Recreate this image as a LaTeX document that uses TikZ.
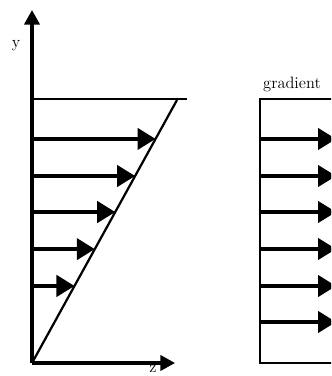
\documentclass[tikz,border=0pt]{standalone}
\usepackage{tikz}
\usetikzlibrary{arrows.meta,calc}

\begin{document}
\begin{tikzpicture}[
    x=0.03cm, y=-0.03cm,
    axis/.style={line width=2.6pt, -{Triangle[length=0.44cm, width=0.46cm]}},
    flow/.style={line width=2.8pt, -{Triangle[length=0.54cm, width=0.64cm]}},
    wall/.style={line width=1.9pt},
    lbl/.style={font=\fontsize{14}{16}\selectfont}
]
\clip (0,0) rectangle (331,376);

% left panel: linear profile
\coordinate (O) at (32,363);
\coordinate (ytip) at (32,10);
\coordinate (ztip) at (175,363);
\coordinate (P) at (177,100);
\coordinate (lidL) at (32,99);
\coordinate (lidR) at (187,99);

\draw[axis] (O) -- (ytip);
\draw[axis] (O) -- (ztip);
\draw[wall] (lidL) -- (lidR);
\draw[wall] (O) -- (P);

\foreach \i/\t in {1/0.852, 2/0.711, 3/0.574, 4/0.433, 5/0.293} {
    \coordinate (tip\i) at ($(O)!\t!(P)$);
    \draw[flow] (O |- tip\i) -- (tip\i);
}

\node[lbl] (ylab) at (16,46) {y};
\node[lbl] (zlab) at (153,369) {z};

% right panel: uniform profile
\coordinate (BL) at (260,363);
\coordinate (TR) at (345,99);
\draw[wall] (BL) rectangle (TR);

\foreach \i/\y in {1/139, 2/176, 3/212, 4/249, 5/286, 6/322} {
    \coordinate (s\i) at (260,\y);
    \coordinate (e\i) at (336,\y);
    \draw[flow] (s\i) -- (e\i);
}

\node[lbl] (grad) at (292,84) {gradient};
\end{tikzpicture}
\end{document}
